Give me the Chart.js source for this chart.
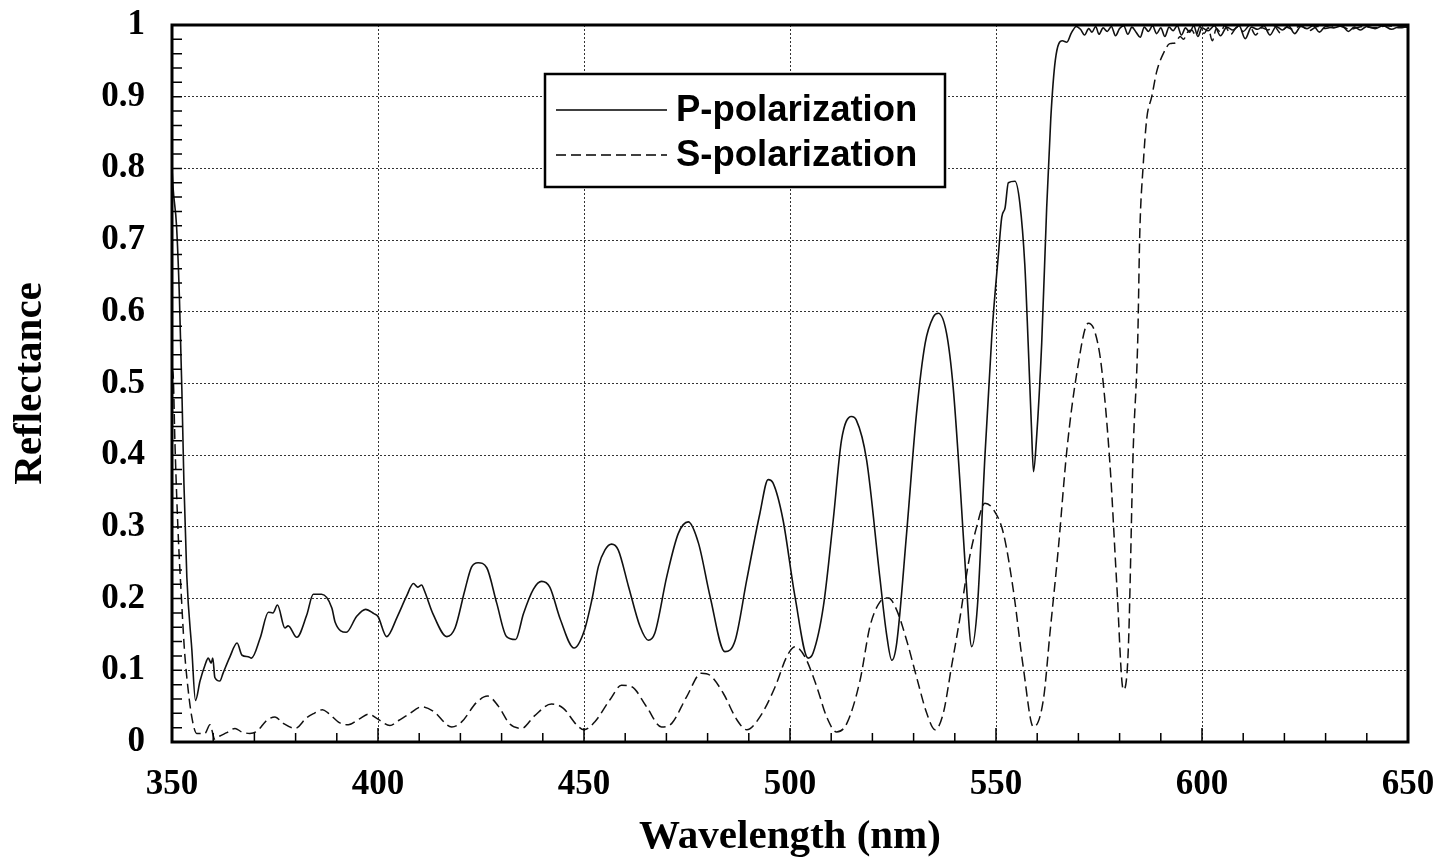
<!DOCTYPE html>
<html>
<head>
<meta charset="utf-8">
<title>Reflectance vs wavelength</title>
<script src="https://cdn.jsdelivr.net/npm/chart.js"></script>
<style>
  html, body { margin: 0; padding: 0; background: #fff; }
  canvas { display: block; }
</style>
</head>
<body>
<canvas id="reflectanceCanvas" width="1437" height="866"></canvas>
<script>
// values
const seriesLabels = ['P-polarization', 'S-polarization'];
const xTickLabels = ['350', '400', '450', '500', '550', '600', '650'];
const yTickLabels = ['0', '0.1', '0.2', '0.3', '0.4', '0.5', '0.6', '0.7', '0.8', '0.9', '1'];

const pWavelength = [
  350, 350.3, 351.1, 351.8, 352.4, 352.9, 353.6, 354.8, 355.7, 356.8,
  358, 358.8, 359.5, 359.9, 360.4, 361.6, 362.4, 364, 365.8, 367,
  368.5, 369.3, 371.4, 373.4, 374.5, 375.6, 377.4, 378.2, 380.3, 382.7,
  384.3, 386.3, 388.8, 389.6, 392.3, 394.8, 397, 399, 400, 402.1,
  404.7, 406.9, 408.6, 409.6, 410.6, 411.2, 413.4, 416.7, 418.7, 421,
  422.7, 424.3, 426.4, 428.8, 431.2, 433.4, 435.3, 437.7, 439.7, 441.7,
  444.2, 447.6, 450, 451.9, 453.5, 455.1, 456.7, 458.3, 460.8, 463.6,
  465.6, 467.2, 470.1, 472.9, 475.3, 477.8, 480.6, 484.2, 486.7, 489.5,
  492.7, 494.7, 495.9, 498.3, 501.2, 504.4, 505.6, 508.1, 510.5, 512.5,
  514.9, 516.1, 518.6, 521.8, 523.4, 524.7, 525.9, 528.3, 530.7, 532.8,
  534.8, 536, 538, 539.6, 541.3, 542.7, 544.1, 545.5, 547.3, 549,
  550.6, 551.4, 552.2, 553, 554.6, 555.8, 557, 557.8, 558.6, 559.1,
  559.8, 561.1, 562.3, 563.3, 564.4, 566.1, 567.2, 568.3, 569.5, 570.5,
  571.5, 572.5, 573.3, 574.2, 575, 576, 577, 578, 579, 580,
  581, 582, 583, 584, 585, 586, 587, 588, 589, 590,
  591, 592, 593, 594, 595, 596, 597, 598, 599, 600,
  601.5, 603, 604.5, 606, 607.5, 609, 610.5, 612, 613.5, 615,
  616.5, 618, 619.5, 621, 622.5, 624, 625.5, 627, 628.5, 630,
  632, 634, 635.5, 637, 638.5, 640, 642, 644, 646, 648, 650
];
const pReflectance = [
  0.80, 0.77, 0.72, 0.62, 0.49, 0.36, 0.23, 0.13, 0.058, 0.085,
  0.107, 0.117, 0.110, 0.117, 0.090, 0.085, 0.096, 0.118, 0.138, 0.121,
  0.119, 0.117, 0.145, 0.181, 0.180, 0.191, 0.159, 0.162, 0.146, 0.177,
  0.206, 0.206, 0.187, 0.167, 0.153, 0.175, 0.185, 0.179, 0.175, 0.147,
  0.175, 0.203, 0.221, 0.216, 0.219, 0.212, 0.178, 0.147, 0.159, 0.210,
  0.244, 0.250, 0.243, 0.194, 0.147, 0.143, 0.179, 0.213, 0.224, 0.216,
  0.172, 0.131, 0.154, 0.198, 0.245, 0.268, 0.276, 0.268, 0.217, 0.161,
  0.142, 0.152, 0.231, 0.291, 0.307, 0.277, 0.203, 0.126, 0.142, 0.226,
  0.319, 0.366, 0.361, 0.310, 0.203, 0.117, 0.124, 0.189, 0.310, 0.421,
  0.454, 0.449, 0.393, 0.230, 0.152, 0.114, 0.138, 0.291, 0.458, 0.556,
  0.593, 0.598, 0.570, 0.495, 0.358, 0.230, 0.133, 0.190, 0.397, 0.568,
  0.681, 0.732, 0.745, 0.780, 0.782, 0.751, 0.665, 0.557, 0.440, 0.377,
  0.420, 0.557, 0.745, 0.870, 0.951, 0.978, 0.976, 0.989, 0.998, 0.994,
  0.986, 0.995, 0.990, 0.998, 0.987, 0.996, 0.991, 0.998, 0.985, 0.995,
  0.999, 0.987, 0.997, 0.990, 0.983, 0.997, 0.991, 0.999, 0.988, 0.996,
  0.984, 0.997, 0.992, 0.999, 0.986, 0.996, 0.990, 0.999, 0.984, 0.996,
  0.992, 0.999, 0.985, 0.997, 0.993, 0.999, 0.981, 0.997, 0.994, 0.999,
  0.986, 0.998, 0.993, 0.999, 0.988, 0.998, 0.995, 0.999, 0.990, 0.998,
  0.996, 0.999, 0.991, 0.997, 0.993, 0.998, 0.995, 0.999, 0.994, 0.998, 0.997
];

const sWavelength = [
  350, 350.3, 350.7, 351.5, 352.3, 353, 353.6, 354.8, 356, 358,
  359.2, 360.4, 361.5, 363.3, 365.3, 366.9, 368.9, 370.6, 373, 375,
  377, 379.9, 382.7, 384.5, 386.5, 388, 390.6, 392.8, 395.4, 397.8,
  399.7, 402.9, 405, 407.3, 410.6, 413.4, 417.9, 420.3, 423.9, 426.6,
  429.2, 432, 434.9, 437.9, 442.1, 445, 448.2, 450, 452.6, 456.3,
  459.1, 461.6, 465.2, 468.8, 471.3, 474.9, 478.5, 480.6, 483.8, 487.1,
  489.5, 492.7, 496.4, 499.2, 501.2, 503.6, 506.5, 508.9, 511.3, 513.8,
  517, 519.4, 521.8, 523.9, 525.9, 528.3, 530.7, 533.2, 535.2, 537.2,
  539.2, 541.3, 543.3, 545.3, 547.3, 549.4, 551.8, 554.2, 556.6, 559.1,
  561.5, 563.1, 565.1, 567.2, 569.6, 572.4, 574, 575.6, 577.7, 579.3,
  580.9, 582.1, 583.3, 584.4, 584.9, 585.7, 586.6, 587.8, 589, 590.6,
  592.2, 593.5, 594.7, 595.5, 596.5, 597.5, 598.5, 599.5, 600.5, 601.5,
  602.5, 603.5, 604.5, 605.5, 607, 608.5, 610, 611.5, 613, 614.5,
  616, 617.5, 619, 620.5, 622, 624, 626, 628, 630, 633,
  636, 639, 642, 645, 648, 650
];
const sReflectance = [
  0.52, 0.51, 0.42, 0.29, 0.20, 0.13, 0.09, 0.035, 0.012, 0.012,
  0.024, 0.004, 0.008, 0.013, 0.019, 0.014, 0.012, 0.015, 0.030, 0.035,
  0.026, 0.019, 0.034, 0.040, 0.045, 0.040, 0.027, 0.024, 0.032, 0.039,
  0.033, 0.023, 0.030, 0.038, 0.049, 0.043, 0.021, 0.028, 0.055, 0.064,
  0.050, 0.025, 0.019, 0.036, 0.053, 0.047, 0.024, 0.017, 0.028, 0.059,
  0.079, 0.077, 0.049, 0.021, 0.026, 0.063, 0.096, 0.093, 0.068, 0.031,
  0.017, 0.035, 0.077, 0.119, 0.133, 0.119, 0.077, 0.035, 0.014, 0.026,
  0.086, 0.161, 0.195, 0.201, 0.184, 0.142, 0.091, 0.040, 0.017, 0.040,
  0.105, 0.175, 0.249, 0.300, 0.333, 0.324, 0.291, 0.212, 0.105, 0.021,
  0.059, 0.152, 0.268, 0.407, 0.514, 0.584, 0.572, 0.523, 0.384, 0.221,
  0.073, 0.128, 0.407, 0.560, 0.710, 0.802, 0.870, 0.900, 0.935, 0.960,
  0.974, 0.975, 0.984, 0.980, 0.990, 0.993, 0.985, 0.998, 0.988, 0.996,
  0.978, 0.995, 0.990, 0.999, 0.987, 0.997, 0.991, 0.999, 0.986, 0.996,
  0.993, 0.999, 0.989, 0.997, 0.994, 0.999, 0.992, 0.998, 0.995, 0.999,
  0.994, 0.998, 0.996, 0.999, 0.996, 0.998
];

const toPoints = (xs, ys) => xs.map((x, i) => ({x: x, y: ys[i]}));

// thick frame plus the short inward minor ticks of the original
const framePlugin = {
  id: 'frame',
  afterDatasetsDraw(chart) {
    const {ctx, chartArea: a, scales: {x, y}} = chart;
    ctx.save();
    ctx.strokeStyle = '#000';
    ctx.lineWidth = 1.5;
    ctx.beginPath();
    for (let i = 1; i < 50; i++) {
      const py = y.getPixelForValue(i / 50);
      ctx.moveTo(a.left, py);
      ctx.lineTo(a.left + 10, py);
    }
    for (let i = 1; i < 30; i++) {
      const px = x.getPixelForValue(350 + i * 10);
      const len = i % 5 === 0 ? 14 : 9;
      ctx.moveTo(px, a.bottom);
      ctx.lineTo(px, a.bottom - len);
    }
    ctx.stroke();
    ctx.lineWidth = 3;
    ctx.strokeRect(a.left, a.top, a.right - a.left, a.bottom - a.top);
    ctx.restore();
  }
};

// boxed legend sitting inside the plot, like the original
const boxLegend = {
  id: 'boxLegend',
  afterDraw(chart) {
    const ctx = chart.ctx;
    const box = {left: 545, top: 74, width: 400, height: 113};
    ctx.save();
    ctx.fillStyle = '#fff';
    ctx.fillRect(box.left, box.top, box.width, box.height);
    ctx.strokeStyle = '#000';
    ctx.lineWidth = 2.5;
    ctx.strokeRect(box.left, box.top, box.width, box.height);
    ctx.font = 'bold 36.5px "Liberation Sans", Arial, sans-serif';
    ctx.textBaseline = 'middle';
    ctx.fillStyle = '#000';
    chart.data.datasets.forEach((ds, i) => {
      const cy = box.top + 36 + i * 45;
      ctx.lineWidth = 1.5;
      ctx.setLineDash(ds.borderDash || []);
      ctx.beginPath();
      ctx.moveTo(box.left + 11, cy);
      ctx.lineTo(box.left + 122, cy);
      ctx.stroke();
      ctx.setLineDash([]);
      ctx.fillText(ds.label, box.left + 131, cy + 1);
    });
    ctx.restore();
  }
};

const tickFont = {family: '"Liberation Serif", "Times New Roman", serif', size: 35, weight: 'bold'};
const titleFont = {family: '"Liberation Serif", "Times New Roman", serif', size: 41, weight: 'bold'};

const chart = new Chart(
  document.getElementById('reflectanceCanvas'),
  {
    type: 'line',
    data: {
      datasets: [
        {
          label: seriesLabels[0],
          data: toPoints(pWavelength, pReflectance),
          borderColor: '#111',
          borderWidth: 1.6,
          pointRadius: 0,
          cubicInterpolationMode: 'monotone'
        },
        {
          label: seriesLabels[1],
          data: toPoints(sWavelength, sReflectance),
          borderColor: '#111',
          borderWidth: 1.5,
          borderDash: [10, 5],
          pointRadius: 0,
          cubicInterpolationMode: 'monotone'
        }
      ]
    },
    options: {
      responsive: false,
      animation: false,
      devicePixelRatio: 1,
      layout: {padding: {left: 0, top: 25, right: 29, bottom: 0}},
      plugins: {
        legend: {display: false},
        tooltip: {enabled: false}
      },
      scales: {
        x: {
          type: 'linear',
          min: 350,
          max: 650,
          afterFit: s => {
            s.height = 124;
            s.paddingLeft = 0;
            s.paddingRight = 0;
          },
          afterBuildTicks: s => { s.ticks = xTickLabels.map(t => ({value: Number(t)})); },
          ticks: {
            color: '#000',
            font: tickFont,
            padding: 22,
            maxRotation: 0,
            callback: (v, i) => xTickLabels[i]
          },
          grid: {
            color: '#333',
            lineWidth: 1,
            drawTicks: false
          },
          border: {display: false, dash: [2, 2]},
          title: {
            display: true,
            text: 'Wavelength (nm)',
            color: '#000',
            font: titleFont,
            padding: {top: 0, bottom: 4}
          }
        },
        y: {
          min: 0,
          max: 1,
          afterFit: s => {
            s.width = 172;
            s.paddingTop = 0;
            s.paddingBottom = 0;
          },
          afterBuildTicks: s => { s.ticks = yTickLabels.map(t => ({value: Number(t)})); },
          ticks: {
            color: '#000',
            font: tickFont,
            padding: 27,
            callback: (v, i) => yTickLabels[i]
          },
          grid: {
            color: '#333',
            lineWidth: 1,
            drawTicks: false
          },
          border: {display: false, dash: [2, 2]},
          title: {
            display: true,
            text: 'Reflectance',
            color: '#000',
            font: titleFont,
            padding: {top: 6, bottom: 0}
          }
        }
      }
    },
    plugins: [framePlugin, boxLegend]
  }
);
</script>
</body>
</html>
